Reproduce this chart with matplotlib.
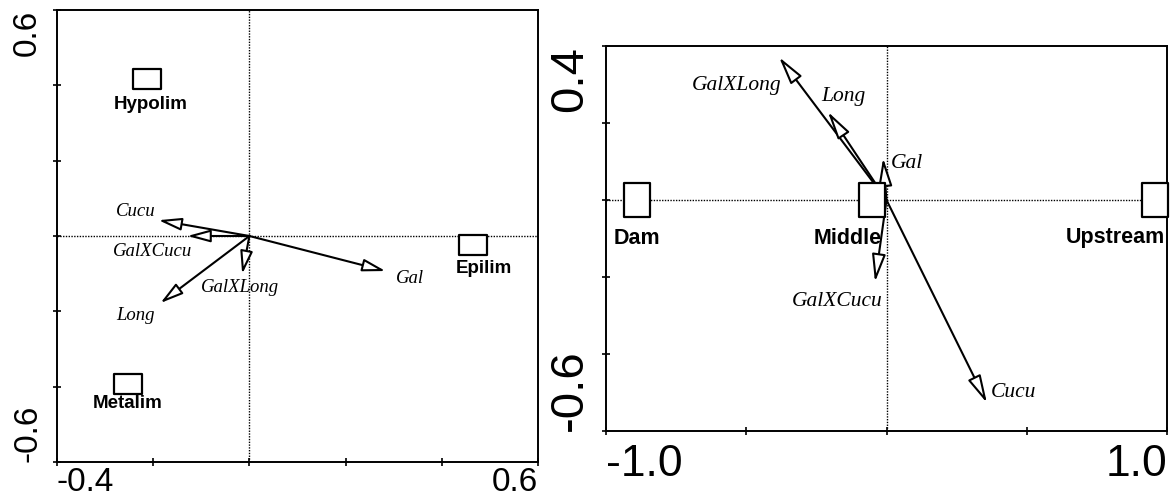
import matplotlib
matplotlib.use('Agg')
import matplotlib.pyplot as plt
from matplotlib import font_manager
from matplotlib.path import Path

# Lake strata panel: sample centroids and species arrows
lake_sites = ['Hypolim', 'Epilim', 'Metalim']
lake_site_x = [-0.213, 0.465, -0.253]
lake_site_y = [0.416, -0.023, -0.392]

lake_species = ['Cucu', 'GalXCucu', 'GalXLong', 'Long', 'Gal']
lake_arrow_x = [-0.189, -0.129, -0.015, -0.185, 0.283]
lake_arrow_y = [0.042, 0.000, -0.101, -0.178, -0.093]

# River section panel
river_sites = ['Dam', 'Middle', 'Upstream']
river_site_x = [-0.889, -0.052, 0.957]
river_site_y = [0.0, 0.0, 0.0]

river_species = ['GalXLong', 'Long', 'Gal', 'GalXCucu', 'Cucu']
river_arrow_x = [-0.383, -0.209, -0.012, -0.041, 0.358]
river_arrow_y = [0.371, 0.229, 0.109, -0.213, -0.527]

lake_xticks = [-0.4, -0.2, 0.0, 0.2, 0.4, 0.6]
lake_xlabels = ['-0.4', '', '', '', '', '0.6']
lake_yticks = [-0.6, -0.4, -0.2, 0.0, 0.2, 0.4, 0.6]
lake_ylabels = ['-0.6', '', '', '', '', '', '0.6']

river_xticks = [-1.0, -0.5, 0.0, 0.5, 1.0]
river_xlabels = ['-1.0', '', '', '', '1.0']
river_yticks = [-0.6, -0.4, -0.2, 0.0, 0.2, 0.4]
river_ylabels = ['-0.6', '', '', '', '', '0.4']

installed = {f.name for f in font_manager.fontManager.ttflist}
NARROW = 'Liberation Sans Narrow' if 'Liberation Sans Narrow' in installed else 'Liberation Sans'
SERIF = 'Liberation Serif'
plt.rcParams['font.family'] = ['Liberation Sans', 'DejaVu Sans']

PX = 0.72  # points per pixel at 100 dpi


def box_marker(w, h):
    verts = [(-w, -h), (w, -h), (w, h), (-w, h), (-w, -h)]
    codes = [Path.MOVETO, Path.LINETO, Path.LINETO, Path.LINETO, Path.CLOSEPOLY]
    return Path(verts, codes)


def style_axes(ax, xticks, xlabels, yticks, ylabels, xfont, yfont, xsize, ysize, xpad):
    for s in ax.spines.values():
        s.set_linewidth(1.4)
        s.set_color('black')
    ax.set_xticks(xticks)
    ax.set_yticks(yticks)
    ax.set_xticklabels(xlabels, family=xfont, fontsize=xsize)
    ax.set_yticklabels(ylabels, family=yfont, fontsize=ysize, rotation=90)
    ax.tick_params(direction='inout', length=6, width=1.2)
    ax.tick_params(axis='x', pad=xpad)
    ax.tick_params(axis='y', pad=7)
    xl = ax.get_xticklabels()
    xl[0].set_ha('left')
    xl[-1].set_ha('right')
    yl = ax.get_yticklabels()
    yl[0].set_va('bottom')
    yl[-1].set_va('top')
    ax.axhline(0, color='black', lw=1.0, ls=(0, (1, 1)), zorder=1)
    ax.axvline(0, color='black', lw=1.0, ls=(0, (1, 1)), zorder=1)


def draw_arrows(ax, names, xs, ys, offsets, size, head):
    for name, x, y, off in zip(names, xs, ys, offsets):
        ax.annotate('', xy=(x, y), xytext=(0, 0),
                    arrowprops=dict(arrowstyle=head, fc='white', ec='black',
                                    lw=1.5, shrinkA=0, shrinkB=0,
                                    mutation_scale=10),
                    zorder=2)
        ax.annotate(name, xy=(x, y), xytext=(off[0] * PX, off[1] * PX),
                    textcoords='offset points', ha='center', va='center',
                    family=SERIF, style='italic', fontsize=size, zorder=4)


def draw_sites(ax, names, xs, ys, offsets, marker, ms, font, size):
    ax.plot(xs, ys, ls='none', marker=marker, ms=ms, mfc='white',
            mec='black', mew=1.6, zorder=3, clip_on=False)
    for name, x, y, off in zip(names, xs, ys, offsets):
        ax.annotate(name, xy=(x, y), xytext=(off[0] * PX, off[1] * PX),
                    textcoords='offset points', ha='center', va='center',
                    family=font, weight='bold', fontsize=size, zorder=4)


fig = plt.figure(figsize=(11.73, 5.0), dpi=100)

# Left panel
ax1 = fig.add_axes([57 / 1173, 1 - 462 / 500, 481 / 1173, 452 / 500])
ax1.set_xlim(-0.4, 0.6)
ax1.set_ylim(-0.6, 0.6)
style_axes(ax1, lake_xticks, lake_xlabels, lake_yticks, lake_ylabels,
           'Liberation Sans', 'Liberation Sans', 24, 24, 0.8)
draw_arrows(ax1, lake_species, lake_arrow_x, lake_arrow_y,
            [(-23, 9), (-35, -16), (-2, -13), (-25, -12), (25, -7)],
            13.5, '-|>,head_length=1.4,head_width=0.38')
draw_sites(ax1, lake_sites, lake_site_x, lake_site_y,
           [(4, -25), (11, -24), (0, -20)],
           box_marker(0.5, 0.37), 19.5, 'Liberation Sans', 13.5)

# Right panel
ax2 = fig.add_axes([606 / 1173, 1 - 431 / 500, 561 / 1173, 385 / 500])
ax2.set_xlim(-1.0, 1.0)
ax2.set_ylim(-0.6, 0.4)
style_axes(ax2, river_xticks, river_xlabels, river_yticks, river_ylabels,
           NARROW, 'Liberation Sans', 32, 34, 6)
draw_arrows(ax2, river_species, river_arrow_x, river_arrow_y,
            [(-42, -28), (15, 15), (24, -5), (-38, -19), (27, 10)],
            15.5, '-|>,head_length=1.7,head_width=0.42')
draw_sites(ax2, river_sites, river_site_x, river_site_y,
           [(0, -38), (-24, -38), (-40, -38)],
           box_marker(0.38, 0.5), 25, NARROW, 15.5)

fig.savefig('out.png', dpi=100)
